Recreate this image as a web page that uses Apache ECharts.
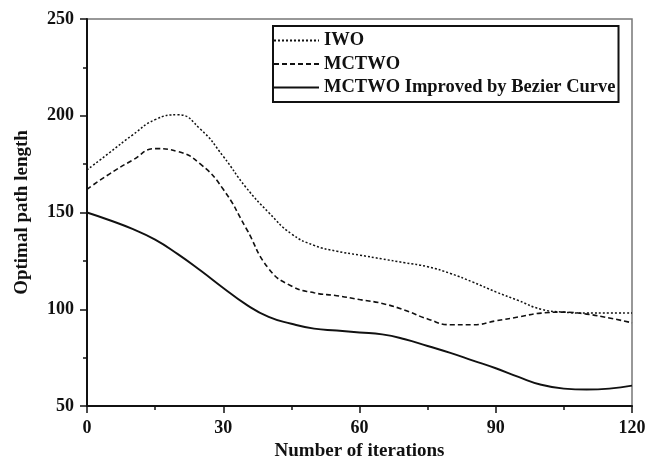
<!DOCTYPE html>
<html><head><meta charset="utf-8">
<script src="https://cdn.jsdelivr.net/npm/echarts@6/dist/echarts.min.js"></script>
<style>html,body{margin:0;padding:0;background:#fff}#c{width:656px;height:461px}</style>
</head><body><div id="c"></div>
<script>
const iterations = [0,5,10,15,20,25,30,35,40,45,50,55,60,65,70,75,80,85,90,95,100,105,110,115,120];
const iwo    = [172,181,190,198,200.5,193,179,163,150,139,133,130,128,126,124,122,118.5,114,109,104.5,100,98.5,98,98,98];
const mctwo  = [162,170,177,183,181.5,175,162,142,121,112,108.5,107,105,103,99.5,95,92,92,94,96,98,98.5,97.5,95.5,93];
const bezier = [150,146,141.5,136,128.5,120,111,102.5,96,92.5,90,89,88,87,84.5,81,77.5,73.5,69.5,65,61,59,58.5,59,60.5];
const xTicks = [0,30,60,90,120];
const yTicks = [50,100,150,200,250];
const names = ['IWO','MCTWO','MCTWO Improved by Bezier Curve'];

const pair = a => iterations.map((x,i)=>[x,a[i]]);
const font = '"Liberation Serif", "DejaVu Serif", serif';
const chart = echarts.init(document.getElementById('c'));
const mk = (name, data, type, w) => ({
  name, type:'line', data: pair(data), smooth:0.5, showSymbol:false, symbol:'none',
  lineStyle:{color:'#111', width:w, type}, itemStyle:{color:'#111'}
});
chart.setOption({
  animation:false,
  backgroundColor:'#fff',
  grid:{left:87, right:24, top:19, bottom:55, show:true, borderColor:'#777', borderWidth:1.5,
        containLabel:false, outerBoundsMode:'none'},
  legend:{
    orient:'vertical', left:273, top:26, data:names,
    itemWidth:45, itemHeight:14, itemGap:4.5,
    itemStyle:{opacity:0},
    padding:[5,3,5,0], borderColor:'#111', borderWidth:2,
    textStyle:{fontFamily:font, fontWeight:'bold', fontSize:18.5, color:'#111', padding:[0,0,0,0]}
  },
  xAxis:{
    type:'value', min:0, max:120, interval:30,
    name:'Number of iterations', nameLocation:'middle', nameGap:36,
    nameTextStyle:{fontFamily:font, fontWeight:'bold', fontSize:19, color:'#111'},
    axisLine:{lineStyle:{color:'#111', width:2}},
    axisTick:{show:true, inside:false, length:7, lineStyle:{color:'#111', width:1.5}},
    minorTick:{show:true, splitNumber:2, length:4, lineStyle:{color:'#111', width:1.5}},
    axisLabel:{fontFamily:font, fontWeight:'bold', fontSize:18, color:'#111', margin:13,
      formatter:v=>xTicks.includes(v)?String(v):''},
    splitLine:{show:false}
  },
  yAxis:{
    type:'value', min:50, max:250, interval:50,
    name:'Optimal path length', nameLocation:'middle', nameGap:55, nameRotate:90,
    nameTextStyle:{fontFamily:font, fontWeight:'bold', fontSize:19, color:'#111'},
    axisLine:{show:true, lineStyle:{color:'#111', width:2}},
    axisTick:{show:true, inside:false, length:7, lineStyle:{color:'#111', width:1.5}},
    minorTick:{show:true, splitNumber:2, length:4, lineStyle:{color:'#111', width:1.5}},
    axisLabel:{fontFamily:font, fontWeight:'bold', fontSize:18, color:'#111', margin:13,
      formatter:v=>yTicks.includes(v)?String(v):''},
    splitLine:{show:false}
  },
  series:[
    mk(names[0], iwo, [2,2], 1.5),
    mk(names[1], mctwo, [5,3], 1.6),
    mk(names[2], bezier, 'solid', 1.9)
  ]
});
</script></body></html>
